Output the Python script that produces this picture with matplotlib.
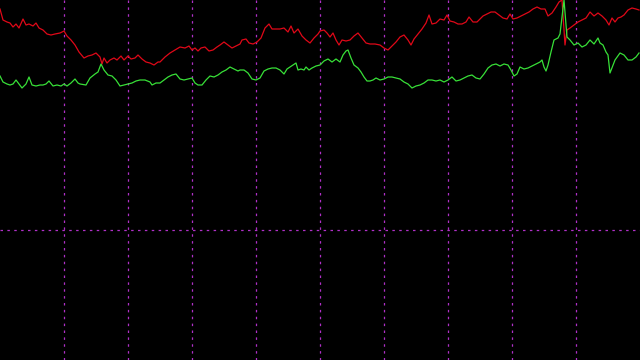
import numpy as np
import matplotlib
matplotlib.use("Agg")
import matplotlib.pyplot as plt

# sample positions (time index) and the two series
t_red = [0, 3, 7, 10, 13, 16, 19, 23, 26, 29, 33, 36, 39, 43, 47, 51, 55, 60, 64, 67, 71, 75, 79,
         84, 88, 92, 96, 100, 102, 104, 107, 110, 114, 117, 121, 124, 128, 131, 135, 138, 142, 146, 150, 154, 158,
         160, 165, 170, 175, 180, 185, 189, 192, 195, 198, 201, 205, 209, 213, 217, 220, 224, 228, 232, 236,
         240, 242, 246, 249, 253, 257, 261, 265, 269, 272, 276, 280, 284, 288, 291, 294, 298, 302, 306, 310, 314, 318,
         320, 324, 327, 330, 333, 336, 339, 342, 346, 350, 354, 358, 362, 366, 370, 375, 380, 384, 388, 392, 396,
         400, 404, 408, 411, 414, 418, 422, 426, 429, 432, 436, 440, 444, 447, 450, 454, 458, 462, 466, 469, 473, 477,
         480, 483, 487, 491, 495, 499, 503, 507, 510, 513, 517, 521, 525, 529, 533, 537, 541, 545, 548, 552, 556, 559,
         562, 565, 567, 570, 574, 578, 582, 586, 590, 594, 598, 602, 606, 609, 612, 615, 618, 621, 624, 628, 632, 636, 639]
red = [9, 20, 22, 23, 27, 24, 28, 19, 25, 24, 26, 23, 28, 30, 34, 35, 34, 33, 31, 36, 40, 45, 52,
       58, 56, 55, 53, 57, 64, 58, 63, 60, 58, 60, 56, 60, 56, 59, 58, 55, 59, 62, 63, 65, 62,
       62, 57, 53, 50, 47, 48, 46, 50, 48, 51, 48, 47, 51, 50, 47, 45, 42, 45, 48, 46,
       44, 40, 39, 43, 44, 42, 38, 28, 24, 29, 29, 29, 28, 32, 26, 33, 29, 36, 40, 43, 38, 34,
       31, 30, 33, 37, 33, 40, 45, 40, 41, 40, 36, 33, 38, 43, 44, 44, 45, 48, 50, 46, 42,
       37, 35, 40, 45, 39, 34, 29, 23, 15, 24, 23, 19, 20, 15, 21, 22, 24, 24, 22, 17, 22, 22,
       19, 16, 14, 12, 12, 15, 18, 19, 14, 19, 18, 16, 14, 12, 9, 7, 9, 9, 16, 13, 7, 2,
       0, 45, 30, 28, 25, 22, 20, 18, 12, 16, 13, 16, 20, 25, 18, 22, 18, 17, 15, 10, 8, 9, 10]

t_green = [0, 3, 7, 10, 13, 16, 19, 22, 26, 29, 32, 36, 40, 43, 46, 49, 53, 57, 61, 64, 67, 71, 75, 78,
           80, 86, 90, 95, 98, 101, 104, 108, 112, 116, 120, 124, 128, 132, 136, 140, 145, 150, 152, 156,
           160, 164, 168, 172, 176, 180, 184, 188, 192, 195, 198, 202, 206, 210, 214, 218, 222, 226, 230, 234, 238,
           240, 244, 248, 252, 256, 260, 264, 268, 272, 276, 280, 284, 287, 290, 293, 296, 298, 301, 304, 306, 309, 312, 316,
           320, 324, 328, 332, 336, 340, 343, 346, 348, 351, 354, 358, 361, 364, 367, 370, 373, 376, 380, 384, 388, 392, 396,
           400, 404, 408, 412, 416, 420, 424, 428, 432, 436, 440, 444, 448, 452, 456, 460, 464, 468, 472, 476,
           480, 484, 488, 492, 496, 500, 504, 508, 511, 514, 517, 520, 524, 528, 532, 536, 540, 542, 544, 546, 548, 551, 554, 558,
           560, 564, 567, 570, 574, 578, 582, 586, 590, 594, 598, 600, 603, 606, 608, 610, 615, 620, 624, 628, 632, 636, 639]
green = [76, 82, 84, 85, 84, 80, 84, 88, 84, 77, 85, 86, 85, 85, 84, 81, 86, 85, 86, 84, 86, 83, 79, 83,
         84, 85, 78, 74, 72, 64, 70, 75, 76, 80, 86, 85, 84, 83, 81, 80, 80, 82, 85, 83,
         83, 80, 77, 75, 74, 79, 80, 79, 78, 83, 85, 85, 80, 76, 77, 75, 72, 70, 67, 69, 71,
         70, 70, 73, 79, 80, 78, 71, 69, 68, 68, 70, 74, 69, 67, 65, 63, 70, 69, 70, 67, 70, 68, 66,
         65, 61, 59, 62, 59, 62, 55, 51, 50, 58, 65, 68, 72, 77, 81, 81, 80, 78, 80, 79, 77, 77, 78,
         79, 82, 84, 88, 86, 85, 83, 80, 80, 81, 80, 82, 80, 77, 81, 80, 78, 76, 75, 78,
         79, 74, 68, 65, 64, 66, 64, 65, 70, 76, 74, 67, 69, 68, 66, 64, 62, 60, 67, 71, 65, 52, 40, 38,
         34, 0, 37, 40, 45, 43, 47, 45, 40, 44, 38, 43, 45, 52, 55, 73, 60, 53, 55, 60, 60, 57, 53]

fig = plt.figure(figsize=(6.4, 3.6), dpi=100, facecolor="black")
ax = fig.add_axes([0, 0, 1, 1])
ax.set_facecolor("black")

ax.plot(t_red, red, color="#e00818", lw=0.9)
ax.plot(t_green, green, color="#38e038", lw=0.9)

ax.set_xlim(0, 640)
ax.set_ylim(360, 0)
ax.set_xticks(np.arange(64, 640, 64))
ax.set_yticks([230])
ax.grid(True, color="#b030c8", linestyle=(0, (2, 3.5)), lw=0.9)
ax.set_axisbelow(True)
ax.tick_params(length=0, labelbottom=False, labelleft=False)
for s in ax.spines.values():
    s.set_visible(False)

fig.savefig("out.png", dpi=100, facecolor="black")
